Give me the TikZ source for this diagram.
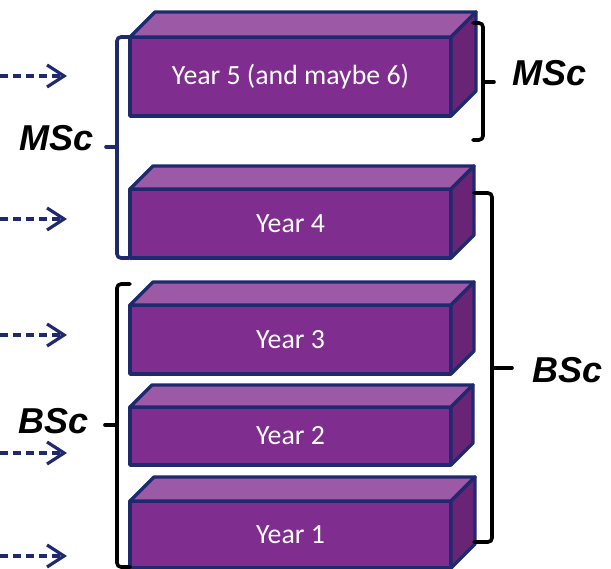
\documentclass[tikz,border=0pt]{standalone}
\usepackage{fontspec}
\setmainfont{Carlito}
\newfontfamily\arialbi{Liberation Sans}
\usetikzlibrary{arrows.meta}
\definecolor{frontc}{RGB}{127,45,142}
\definecolor{topc}{RGB}{155,89,166}
\definecolor{sidec}{RGB}{105,36,118}
\definecolor{navyc}{RGB}{31,42,110}
\tikzset{
  face/.style={draw=navyc, line width=3.4pt, line join=round},
  frontbox/.style={face, fill=frontc, minimum width=321pt, inner sep=0pt, outer sep=0pt,
    text=white, font=\fontsize{27.8}{30}\selectfont},
  bracket/.style={line width=3.6pt, rounded corners=4pt, line cap=round},
  dasharrow/.style={draw=navyc, line width=3.2pt, dash pattern=on 8pt off 5pt,
    -{Straight Barb[length=17pt,width=22pt,line width=3.2pt]}},
  deg/.style={font=\arialbi\bfseries\itshape\fontsize{36}{40}\selectfont, inner sep=0pt}
}
\newcommand\boxfaces[2]{%
  \draw[face, fill=topc] (#1.north west) -- ++(#2,-#2) -- ([shift={(#2,-#2)}]#1.north east) -- (#1.north east) -- cycle;
  \draw[face, fill=sidec] (#1.north east) -- ++(#2,-#2) -- ([shift={(#2,-#2)}]#1.south east) -- (#1.south east) -- cycle;
}
\begin{document}
\begin{tikzpicture}[x=1pt,y=-1pt]
\useasboundingbox (0,0) rectangle (611,569);
% blocks
\node[frontbox, minimum height=79pt] (y5) at (290.5,76.5) {Year 5 (and maybe 6)};
\boxfaces{y5}{25}
\node[frontbox, minimum height=69pt] (y4) at (290.5,223.5) {Year 4};
\boxfaces{y4}{23}
\node[frontbox, minimum height=69pt] (y3) at (290.5,339.5) {Year 3};
\boxfaces{y3}{23}
\node[frontbox, minimum height=58pt] (y2) at (290.5,436) {Year 2};
\boxfaces{y2}{22}
\node[frontbox, minimum height=67pt] (y1) at (290.5,534.5) {Year 1};
\boxfaces{y1}{24}
% arrows
\foreach \i/\yy in {1/76,2/219,3/335,4/453,5/556}{
  \coordinate (as\i) at (0,\yy);
  \coordinate (ae\i) at (67,\yy);
  \draw[dasharrow] (as\i) -- (ae\i);
}
% left MSc bracket
\draw[bracket, draw=navyc] (129,37) -- (117,37) -- (117,258) -- (129,258);
\coordinate (lmb) at (117,147);
\coordinate (lmt) at (106,147);
\draw[bracket, draw=navyc] (lmb) -- (lmt);
\node[deg] (lmsc) at (57,138) {MSc};
% left BSc bracket
\draw[bracket] (130,284) -- (117,284) -- (117,567) -- (130,567);
\coordinate (lbb) at (117,425);
\coordinate (lbt) at (105,425);
\draw[bracket] (lbb) -- (lbt);
\node[deg] (lbsc) at (54,421) {BSc};
% right MSc bracket
\draw[bracket] (473,23) -- (483,23) -- (483,140) -- (473,140);
\coordinate (rmb) at (483,82);
\coordinate (rmt) at (494,82);
\draw[bracket] (rmb) -- (rmt);
\node[deg] (rmsc) at (550,73) {MSc};
% right BSc bracket
\draw[bracket] (474,193) -- (492,193) -- (492,542) -- (474,542);
\coordinate (rbb) at (492,368);
\coordinate (rbt) at (512,368);
\draw[bracket] (rbb) -- (rbt);
\node[deg] (rbsc) at (568,370) {BSc};
\end{tikzpicture}
\end{document}
